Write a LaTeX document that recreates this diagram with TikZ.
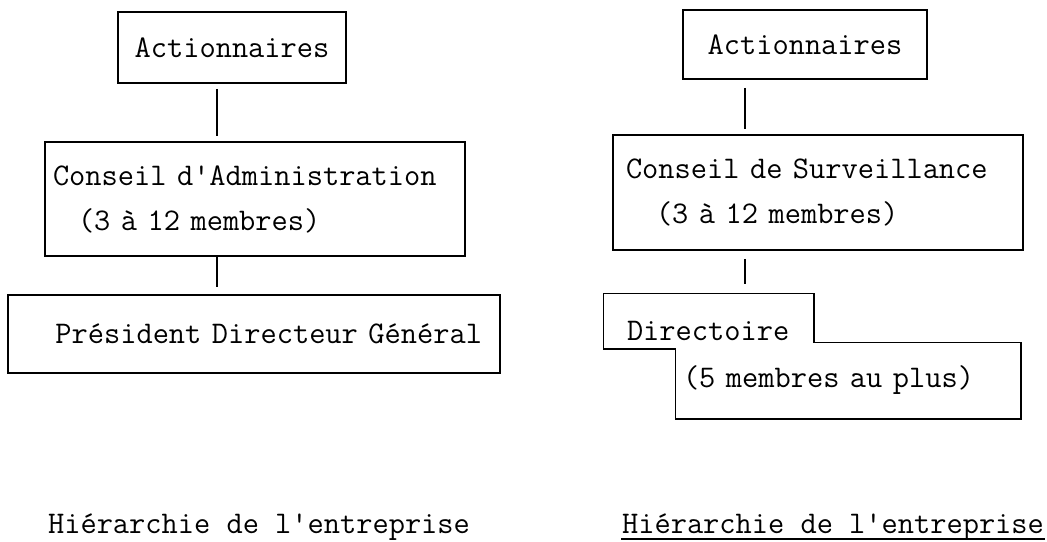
\documentclass[tikz,border=0pt]{standalone}
\newcommand{\typew}{\ttfamily\fontsize{31.5}{45}\selectfont}

\begin{document}
\begin{tikzpicture}[x=1pt, y=-1pt, line width=1.5pt,
  every box/.style={draw, rectangle, inner sep=0pt, font=\typew},
  title/.style={inner sep=0pt, font=\typew, anchor=base}]
\useasboundingbox (0,0) rectangle (1047,541);

% Draw left hierarchy boxes
\node [every box, minimum width=228pt, minimum height=71pt] (act-l) at (232,47.5) {Actionnaires};
\node [every box, minimum width=420pt, minimum height=114pt, text width=404pt, align=left]
  (cda) at (255,199) {Conseil d\textquotesingle{}Administration\\\hspace*{25pt}(3 à 12 membres)};
\node [every box, minimum width=492pt, minimum height=78pt, text width=456pt, align=right]
  (pdg) at (254,334) {Président Directeur Général};

% Draw right hierarchy boxes
\node [every box, minimum width=244pt, minimum height=69pt] (act-r) at (805,44.5) {Actionnaires};
\node [every box, minimum width=410pt, minimum height=115pt, text width=384pt, align=left]
  (csv) at (818,192.5) {Conseil de Surveillance\\\hspace*{30pt}(3 à 12 membres)};
\node [every box, draw=none, minimum width=209pt, text width=163pt, align=left,
  text height=46pt, text depth=8pt] (dir) at (708.5,321) {Directoire};
\node [every box, draw=none, minimum width=344pt, minimum height=75pt, text width=330pt, align=left]
  (mem) at (848,380.5) {(5 membres au plus)};

% Outline of the stepped Directoire box
\draw (dir.north west) -- (dir.north east) -- (dir.north east |- mem.north)
  -- (mem.north east) -- (mem.south east) -- (mem.south west)
  -- (mem.south west |- dir.south) -- (dir.south west) -- cycle;

% Connect the boxes
\foreach \a/\b/\dx/\s/\e in {act-l/cda/-15/5/5, cda/pdg/-38/0/7, act-r/csv/-60/8/5, csv/dir/-73/8/9}
  \draw [shorten <=\s pt, shorten >=\e pt] ([xshift=\dx pt]\a.south) -- ([xshift=\dx pt]\a.south |- \b.north);

% Captions
\foreach \n/\x in {l/259, r/833}
  \node [title] (hier-\n) at (\x,533) {Hiérarchie de l\textquotesingle{}entreprise};
\draw ([yshift=-6pt]hier-r.base west) -- ([yshift=-6pt]hier-r.base east);
\end{tikzpicture}
\end{document}
